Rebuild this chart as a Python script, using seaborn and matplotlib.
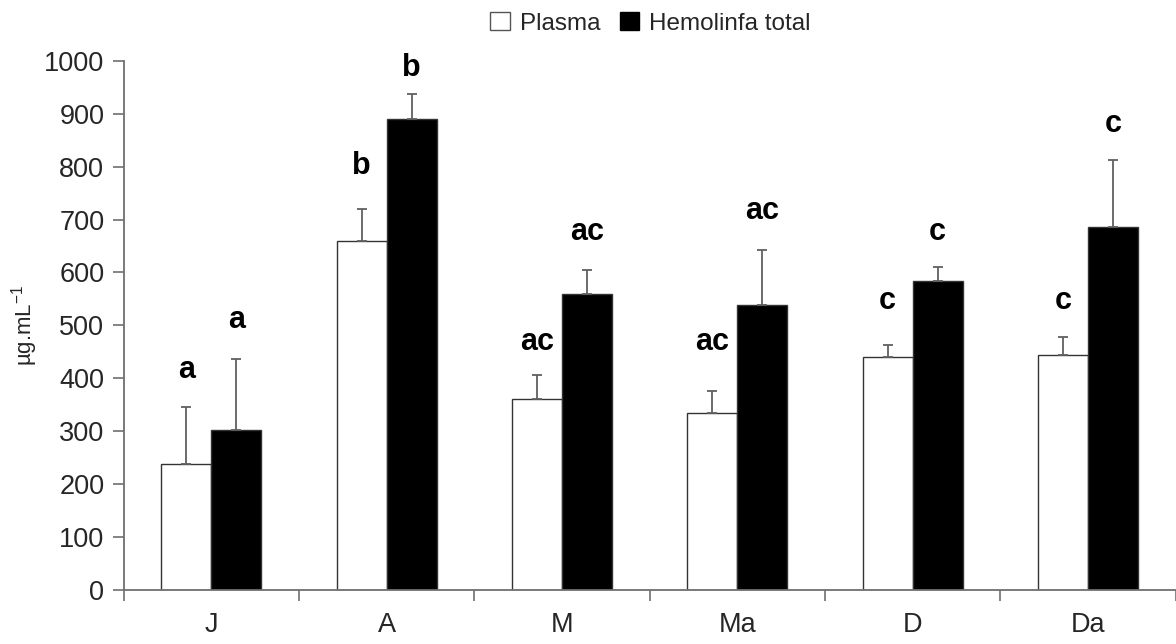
import numpy as np
import pandas as pd
import matplotlib
matplotlib.use("Agg")
import matplotlib.pyplot as plt
import seaborn as sns
from matplotlib.patches import Patch

# Protein concentration by group (mean and upper error)
groups = ["J", "A", "M", "Ma", "D", "Da"]
plasma = [237, 660, 361, 335, 441, 443]
plasma_err = [108, 60, 45, 40, 21, 35]
total = [302, 890, 559, 538, 583, 686]
total_err = [134, 48, 46, 104, 27, 127]

# Significance letters and their heights
plasma_letters = ["a", "b", "ac", "ac", "c", "c"]
total_letters = ["a", "b", "ac", "ac", "c", "c"]
plasma_letter_y = [415, 801, 468, 469, 546, 546]
total_letter_y = [511, 987, 676, 716, 677, 881]

series_names = ["Plasma", "Hemolinfa total"]

df = pd.DataFrame({
    "grupo": groups * 2,
    "serie": [series_names[0]] * len(groups) + [series_names[1]] * len(groups),
    "valor": plasma + total,
    "erro": plasma_err + total_err,
    "letra": plasma_letters + total_letters,
    "letra_y": plasma_letter_y + total_letter_y,
})

sns.set_theme(style="white")
plt.rcParams["font.family"] = ["Liberation Sans", "DejaVu Sans"]
plt.rcParams["mathtext.fontset"] = "custom"
plt.rcParams["mathtext.rm"] = "Liberation Sans"

fig = plt.figure(figsize=(11.76, 6.44), dpi=100)
ax = fig.add_axes([0.1052, 0.0843, 0.8944, 0.821])

sns.barplot(
    data=df, x="grupo", y="valor", hue="serie", order=groups,
    hue_order=series_names, palette=["white", "black"], width=0.57,
    errorbar=None, legend=False, ax=ax, saturation=1,
    edgecolor="#333333", linewidth=1.0,
)

# Pair each bar with its row (seaborn draws hue levels in order)
bars = [p for p in ax.patches if p.get_height() > 0]
for bar, (_, row) in zip(bars, df.iterrows()):
    xc = bar.get_x() + bar.get_width() / 2
    ax.errorbar(xc, row["valor"], yerr=[[0], [row["erro"]]], fmt="none",
                ecolor="#606060", elinewidth=1.3, capsize=3.5, capthick=1.3,
                zorder=1)
    ax.text(xc, row["letra_y"], row["letra"], ha="center", va="center",
            fontsize=22, fontweight="bold", color="black")

ax.set_ylim(0, 1000)
ax.set_xlim(-0.5, len(groups) - 0.5)
ax.set_yticks(np.arange(0, 1001, 100))
ax.set_xlabel("")
ax.set_ylabel(r"µg.mL$^{\mathrm{-1}}$", fontsize=16, labelpad=3)

for side in ["top", "right"]:
    ax.spines[side].set_visible(False)
for side in ["left", "bottom"]:
    ax.spines[side].set_color("#707070")
    ax.spines[side].set_linewidth(1.3)

ax.tick_params(axis="y", direction="out", length=8, width=1.2,
               color="#707070", labelsize=19.5, pad=6, left=True)
ax.set_xticks(range(len(groups)))
ax.set_xticklabels(groups)
ax.set_xticks(np.arange(-0.5, len(groups), 1.0), minor=True)
ax.tick_params(axis="x", which="major", length=0, labelsize=19.5, pad=16)
ax.tick_params(axis="x", which="minor", direction="out", length=8,
               width=1.2, color="#707070", bottom=True)

handles = [Patch(facecolor="white", edgecolor="#555555", linewidth=1.0),
           Patch(facecolor="black", edgecolor="black")]
fig.legend(handles, series_names, loc="center", bbox_to_anchor=(0.553, 0.964),
           ncol=2, frameon=False, fontsize=17.5, handlelength=0.8,
           handleheight=0.8, handletextpad=0.4, columnspacing=0.8)

fig.savefig("out.png", dpi=100)
